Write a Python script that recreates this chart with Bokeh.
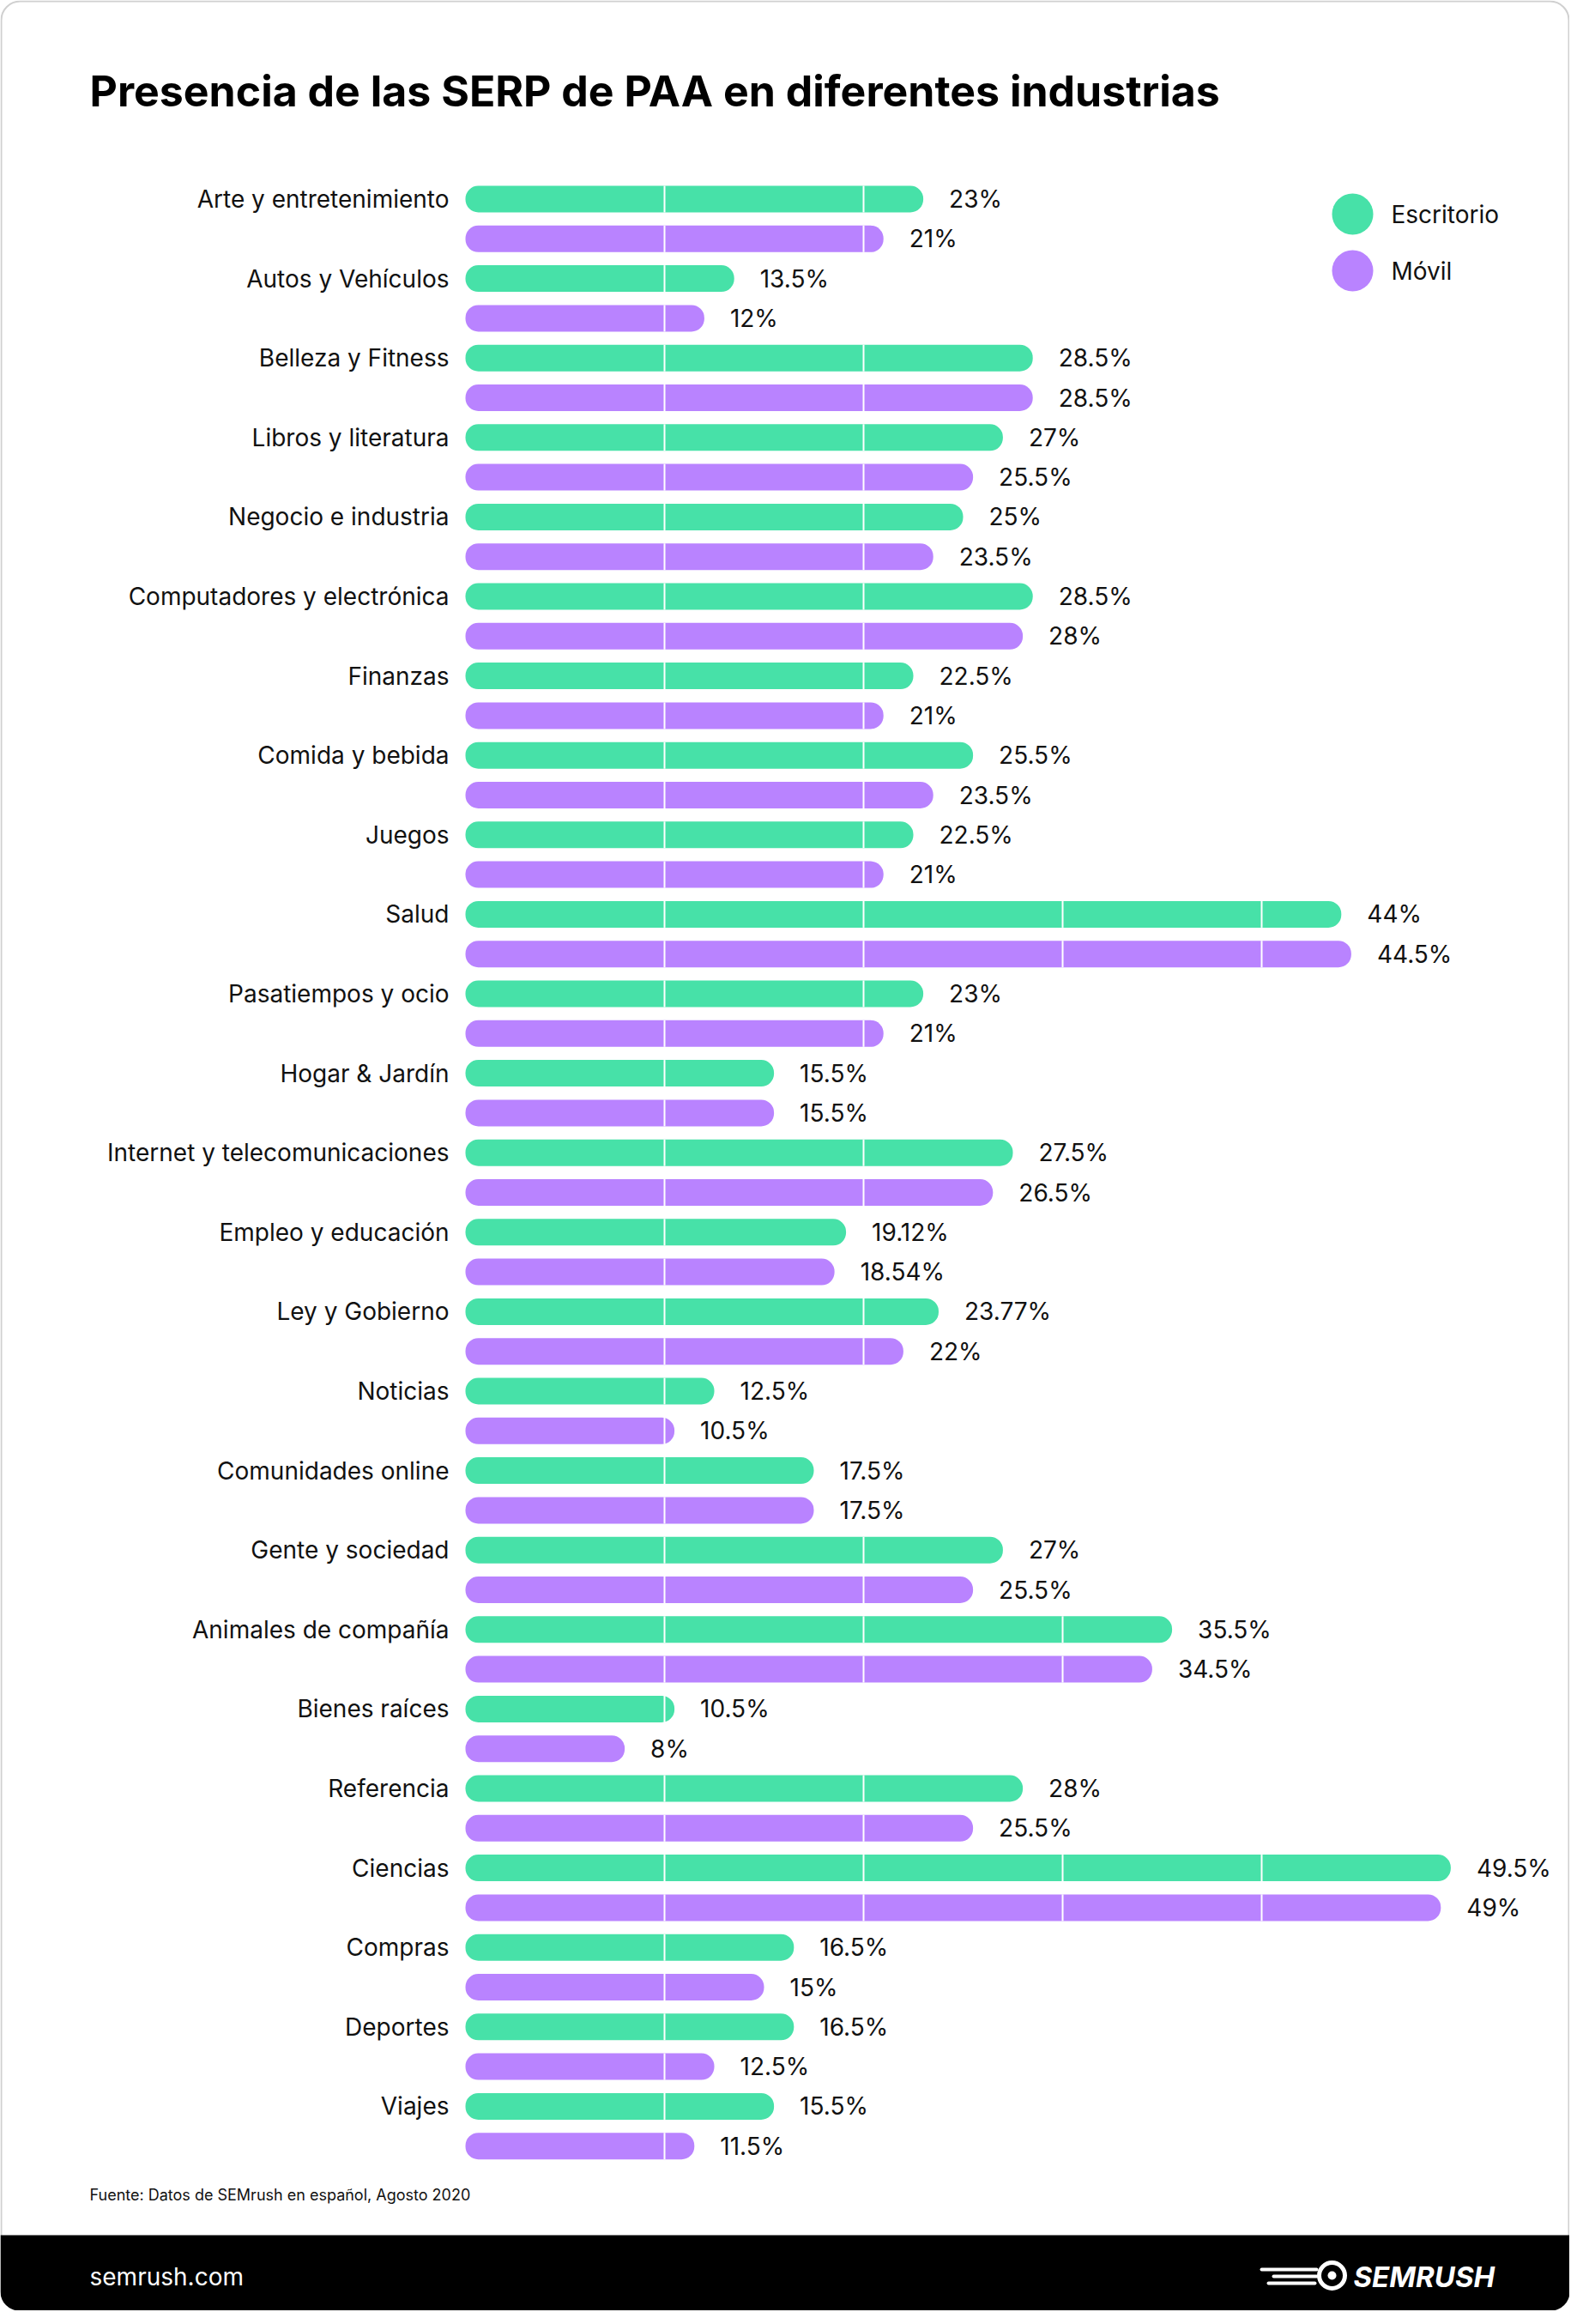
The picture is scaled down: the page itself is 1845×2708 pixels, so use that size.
from bokeh.plotting import figure
from bokeh.models import Range1d, ColumnDataSource
from bokeh.embed import file_html
from bokeh.resources import INLINE
from bokeh.core.properties import value

# ---------------- data ----------------
categories = [
    "Arte y entretenimiento", "Autos y Vehículos", "Belleza y Fitness",
    "Libros y literatura", "Negocio e industria", "Computadores y electrónica",
    "Finanzas", "Comida y bebida", "Juegos", "Salud", "Pasatiempos y ocio",
    "Hogar & Jardín", "Internet y telecomunicaciones", "Empleo y educación",
    "Ley y Gobierno", "Noticias", "Comunidades online", "Gente y sociedad",
    "Animales de compañía", "Bienes raíces", "Referencia", "Ciencias",
    "Compras", "Deportes", "Viajes",
]
escritorio = [23, 13.5, 28.5, 27, 25, 28.5, 22.5, 25.5, 22.5, 44, 23, 15.5,
              27.5, 19.12, 23.77, 12.5, 17.5, 27, 35.5, 10.5, 28, 49.5,
              16.5, 16.5, 15.5]
movil = [21, 12, 28.5, 25.5, 23.5, 28, 21, 23.5, 21, 44.5, 21, 15.5,
         26.5, 18.54, 22, 10.5, 17.5, 25.5, 34.5, 8, 25.5, 49,
         15, 12.5, 11.5]
series_names = ["Escritorio", "Móvil"]
series_colors = ["#47E1A8", "#B983FF"]
grid_ticks = [10, 20, 30, 40]
title_text = "Presencia de las SERP de PAA en diferentes industrias"
source_text = "Fuente: Datos de SEMrush en español, Agosto 2020"
footer_site = "semrush.com"
footer_brand = "SEMRUSH"

# ---------------- layout helpers ----------------
W, H = 1829, 2692
X0, PXX = 542.0, 23.2      # pixel of 0 %, pixels per %
Y0, PXY = 231.5, 46.3      # pixel of first bar centre, pixels per bar row
FONT = value("Inter")


def X(px):
    return (px - X0) / PXX


def Y(py):
    return (py - Y0) / PXY


BAR_H = 31 / PXY

p = figure(width=W, height=H,
           x_range=Range1d(X(0), X(W)),
           y_range=Range1d(Y(H), Y(0)),
           x_axis_location=None, y_axis_location=None,
           output_backend="svg", toolbar_location=None, min_border=0)
p.grid.visible = False
p.outline_line_color = None
p.background_fill_color = "white"
p.border_fill_color = "white"


def fmt(v):
    return f"{v:g}%"


n = len(categories)
for k, (vals, color) in enumerate(zip([escritorio, movil], series_colors)):
    ys = [2 * i + k for i in range(n)]
    src = ColumnDataSource(dict(y=ys, v=vals, label=[fmt(v) for v in vals]))
    p.hbar(y="y", left=0, right="v", height=BAR_H, source=src,
           fill_color=color, line_color=None, border_radius=15)
    # white grid lines inside the bars
    gx, gy0, gy1 = [], [], []
    for y, v in zip(ys, vals):
        for t in grid_ticks:
            if t < v - 0.3:
                gx.append(t)
                gy0.append(y - BAR_H / 2)
                gy1.append(y + BAR_H / 2)
    p.segment(x0=gx, x1=gx, y0=gy0, y1=gy1, line_color="white", line_width=2)
    p.text(x="v", y="y", text="label", source=src, x_offset=30,
           text_font=FONT, text_font_size="28px", text_color="#111111",
           text_baseline="middle", text_align="left")

# category labels (aligned with the desktop bar)
p.text(x=[0] * n, y=[2 * i for i in range(n)], text=categories, x_offset=-19,
       text_font=FONT, text_font_size="28px", text_color="#111111",
       text_baseline="middle", text_align="right")

# legend
leg_y = [Y(249), Y(315)]
p.scatter(x=[X(1576)] * 2, y=leg_y, size=48, fill_color=series_colors,
          line_color=None)
p.text(x=[X(1621)] * 2, y=leg_y, text=series_names, text_font=FONT,
       text_font_size="28px", text_color="#111111", text_baseline="middle")

# title
p.text(x=[X(104)], y=[Y(105)], text=[title_text], text_font=FONT,
       text_font_size="50px", text_font_style="bold", text_color="#000000",
       text_baseline="middle")

# source
p.text(x=[X(104)], y=[Y(2557)], text=[source_text], text_font=FONT,
       text_font_size="18px", text_color="#111111", text_baseline="middle")

# card border
p.quad(left=[X(1)], right=[X(W - 1)], top=[Y(1)],
       bottom=[Y(H - 1)], fill_color=None, line_color="#d0d0d0",
       line_width=2, border_radius=22)

# footer band
p.quad(left=[X(0)], right=[X(W)], top=[Y(2604)], bottom=[Y(H)],
       fill_color="black", line_color=None, border_radius=(0, 0, 22, 22))
p.text(x=[X(104)], y=[Y(2652)], text=[footer_site], text_font=FONT,
       text_font_size="28px", text_color="white", text_baseline="middle")
# brand mark
p.scatter(x=[X(1552)], y=[Y(2651)], size=30, fill_color=None,
          line_color="white", line_width=5)
p.scatter(x=[X(1552)], y=[Y(2651)], size=10, fill_color="white",
          line_color=None)
p.segment(x0=[X(1470), X(1484), X(1478)], x1=[X(1534), X(1534), X(1532)],
          y0=[Y(2644), Y(2652), Y(2660)], y1=[Y(2644), Y(2652), Y(2660)],
          line_color="white", line_width=4, line_cap="round")
p.text(x=[X(1577)], y=[Y(2652)], text=[footer_brand], text_font=FONT,
       text_font_size="33px", text_font_style="bold italic",
       text_color="white", text_baseline="middle")

open("out.html", "w").write(file_html(p, INLINE))
